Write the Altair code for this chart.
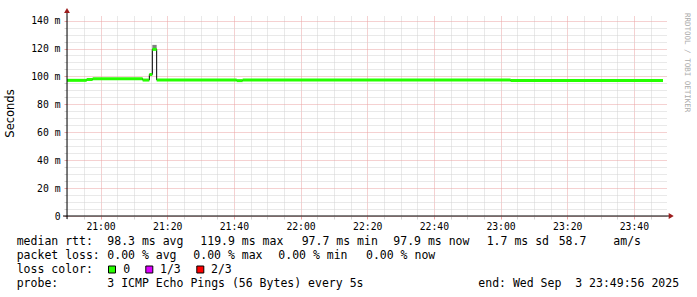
import altair as alt
import pandas as pd

# ---------------- data ----------------
seg_start = ["20:49:56", "20:55:50", "20:57:38", "21:12:38", "21:14:38",
             "21:15:32", "21:16:50", "21:40:50", "21:42:38", "23:03:00"]
seg_end_last = "23:48:44"
median_ms = [97.2, 97.8, 98.4, 97.4, 101.4, 119.4, 97.5, 97.0, 97.5, 97.0]
smoke_lo = [None, None, None, None, None, 119.4, None, None, None, None]
smoke_hi = [None, None, None, None, None, 122.6, None, None, None, None]

range_start = "20:49:56"
range_end = "23:49:56"

y_ticks = list(range(0, 145, 5))
x_ticks_min = list(range(1250, 1430, 5))

legend_labels = [
    "median rtt:", "98.3 ms avg", "119.9 ms max", "97.7 ms min", "97.9 ms now",
    "1.7 ms sd", "58.7", "am/s",
    "packet loss:", "0.00 % avg", "0.00 % max", "0.00 % min", "0.00 % now",
    "loss color:", "0", "1/3", "2/3",
    "probe:", "3 ICMP Echo Pings (56 Bytes) every 5s",
    "end: Wed Sep  3 23:49:56 2025",
]
loss_labels = ["0", "1/3", "2/3"]
loss_colors = ["#26ff00", "#dd00ff", "#ff0000"]

# ---------------- layout (pixels, plot-area coordinates) ----------------
W, H = 600, 200
PAD_L, PAD_T = 67, 16
legend_px = [-50.3, 40.3, 133.3, 234.7, 326.3, 419.7, 491.7, 546.3,
             -50.3, 40.3, 126.3, 211.3, 299.0,
             -50.3, 56.3, 93.0, 144.0,
             -50.3, 40.3, 411.3]
legend_py = [229.3] * 8 + [243.3] * 5 + [257.3] * 4 + [271.3] * 3
square_px = [45.0, 82.3, 133.3]
square_py = [253.5] * 3


def to_min(s):
    h, m, sec = (int(v) for v in s.split(":"))
    return h * 60 + m + sec / 60.0


starts = [to_min(s) for s in seg_start]
ends = starts[1:] + [to_min(seg_end_last)]
seg_df = pd.DataFrame({"t": starts, "t2": ends, "v": median_ms,
                       "lo": smoke_lo, "hi": smoke_hi})
smoke_df = seg_df.dropna(subset=["lo"])
step_df = pd.DataFrame({"t": starts + [ends[-1]], "v": median_ms + [median_ms[-1]]})

NB = "\u00a0"
text_df = pd.DataFrame({"label": [s.replace(" ", NB) for s in legend_labels],
                        "px": legend_px, "py": legend_py})
sq_df = pd.DataFrame({"label": loss_labels, "c": loss_colors,
                      "px": square_px, "py": square_py})

MINOR = "#d2d2d2"
MAJOR = "#eba3a3"
MONO = "DejaVu Sans Mono"

x_axis = alt.Axis(
    values=x_ticks_min, title=None, domain=False,
    grid=True, gridDash=[1, 1],
    gridColor=alt.condition("datum.value % 20 == 0", alt.value(MAJOR), alt.value(MINOR)),
    ticks=True, tickSize=3,
    tickColor=alt.condition("datum.value % 20 == 0", alt.value(MAJOR), alt.value(MINOR)),
    labelExpr="datum.value % 20 == 0 ? (floor(datum.value/60) + ':' + "
              "(datum.value % 60 < 10 ? '0' : '') + (datum.value % 60)) : ''",
    labelFont=MONO, labelFontSize=9.75, labelColor="#000",
    labelBaseline="alphabetic", labelPadding=10, labelFlush=False,
)
y_axis = alt.Axis(
    values=y_ticks, title=None, domain=False,
    grid=True, gridDash=[1, 1],
    gridColor=alt.condition("datum.value % 20 == 0", alt.value(MAJOR), alt.value(MINOR)),
    ticks=True, tickSize=3,
    tickColor=alt.condition("datum.value % 20 == 0", alt.value(MAJOR), alt.value(MINOR)),
    labelExpr="datum.value % 20 == 0 ? (datum.value == 0 ? '0' : datum.value + ' m') : ''",
    labelFont=MONO, labelFontSize=9.75, labelColor="#000", labelPadding=4,
)

xs = alt.Scale(domain=[to_min(range_start), to_min(range_end)], nice=False, zero=False)
ys = alt.Scale(domain=[0, 143.3], nice=False, zero=True)


def X(f):
    return alt.X(f, type="quantitative", scale=xs, axis=x_axis, title=None)


def Y(f):
    return alt.Y(f, type="quantitative", scale=ys, axis=y_axis, title=None)


smoke = alt.Chart(smoke_df).mark_rect(color="#808080").encode(
    x=X("t"), x2="t2", y=Y("lo"), y2="hi")

step = alt.Chart(step_df).mark_line(interpolate="step-after", color="#000",
                                    strokeWidth=1).encode(x=X("t"), y=Y("v"))

green = alt.Chart(seg_df).mark_rule(color="#26ff00", strokeWidth=3).encode(
    x=X("t"), x2="t2", y=Y("v"))

x_line = alt.Chart().mark_rule(color="#000", strokeWidth=1).encode(
    x=alt.value(-4), x2=alt.value(603), y=alt.value(H))
y_line = alt.Chart().mark_rule(color="#000", strokeWidth=1).encode(
    x=alt.value(0), y=alt.value(-3), y2=alt.value(H + 3))

arrow_up = alt.Chart().mark_point(shape="triangle-up", filled=True, size=34,
                                  color="#9c1c1c", opacity=1).encode(
    x=alt.value(0), y=alt.value(-5.5))
arrow_right = alt.Chart().mark_point(shape="triangle-right", filled=True, size=34,
                                     color="#9c1c1c", opacity=1).encode(
    x=alt.value(604.2), y=alt.value(H))

legend_text = alt.Chart(text_df).mark_text(
    font=MONO, fontSize=11.5, align="left", baseline="alphabetic", color="#000"
).encode(x=alt.X("px:Q", scale=None), y=alt.Y("py:Q", scale=None), text="label:N")

squares = alt.Chart(sq_df).mark_square(size=49, opacity=1, stroke="#000",
                                       strokeWidth=1).encode(
    x=alt.X("px:Q", scale=None), y=alt.Y("py:Q", scale=None),
    fill=alt.Fill("c:N", scale=None))

ylabel = alt.Chart().mark_text(
    text="Seconds", font="DejaVu Sans", fontSize=11.5, angle=270,
    align="center", baseline="middle", color="#000"
).encode(x=alt.value(-56.5), y=alt.value(97.5))

watermark = alt.Chart().mark_text(
    text="RRDTOOL / TOBI OETIKER", font=MONO, fontSize=7.5, angle=90,
    align="left", baseline="middle", color="#aaaaaa"
).encode(x=alt.value(620.3), y=alt.value(-3))

chart = alt.layer(
    smoke, step, green, x_line, y_line, arrow_up, arrow_right,
    legend_text, squares, ylabel, watermark
).properties(
    width=W, height=H,
    autosize=alt.AutoSizeParams(type="none"),
    padding={"left": PAD_L, "top": PAD_T, "right": 697 - PAD_L - W,
             "bottom": 297 - PAD_T - H},
    background="#ffffff",
).configure_view(stroke=None)

chart.save("out.html", embed_options={"renderer": "svg", "actions": False})
